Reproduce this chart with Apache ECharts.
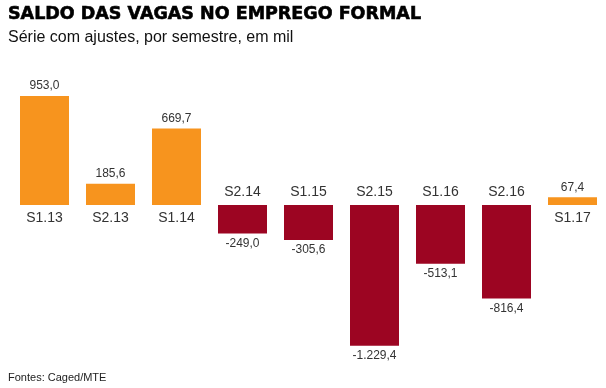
<!DOCTYPE html>
<html>
<head>
<meta charset="utf-8">
<script src="https://cdn.jsdelivr.net/npm/echarts@6/dist/echarts.min.js"></script>
<style>html,body{margin:0;padding:0;background:#fff;}#c{width:606px;height:388px;}</style>
</head>
<body>
<div id="c"></div>
<script>
var categories = ['S1.13','S2.13','S1.14','S2.14','S1.15','S2.15','S1.16','S2.16','S1.17'];
var values = [953.0, 185.6, 669.7, -249.0, -305.6, -1229.4, -513.1, -816.4, 67.4];
var titleText = 'SALDO DAS VAGAS NO EMPREGO FORMAL';
var subtitleText = 'Série com ajustes, por semestre, em mil';
var sourceText = 'Fontes: Caged/MTE';

function fmt(v) {
  var neg = v < 0;
  var a = Math.abs(v).toFixed(1).split('.');
  var intPart = a[0].replace(/\B(?=(\d{3})+(?!\d))/g, '.');
  return (neg ? '-' : '') + intPart + ',' + a[1];
}

var ORANGE = '#F7941E';
var RED = '#9C0522';

var barData = values.map(function (v) {
  return {
    value: v,
    itemStyle: { color: v >= 0 ? ORANGE : RED },
    label: { position: v >= 0 ? 'top' : 'bottom' }
  };
});
var catData = values.map(function (v, i) {
  return {
    value: [categories[i], 0],
    label: { position: v >= 0 ? 'bottom' : 'top', formatter: categories[i] }
  };
});

var chart = echarts.init(document.getElementById('c'), null, { renderer: 'canvas' });
chart.setOption({
  animation: false,
  title: [
    { text: titleText, left: 8, top: 5, padding: 0,
      textStyle: { fontFamily: 'DejaVu Sans', fontWeight: 'bold', fontSize: 17.5, color: '#000',
        textBorderColor: '#000', textBorderWidth: 0.6 } },
    { text: subtitleText, left: 8, top: 30, padding: 0,
      textStyle: { fontFamily: 'Liberation Sans', fontWeight: 'normal', fontSize: 16, color: '#111' } },
    { text: sourceText, left: 8, top: 372, padding: 0,
      textStyle: { fontFamily: 'Liberation Sans', fontWeight: 'normal', fontSize: 11, color: '#222' } }
  ],
  grid: { left: 11.5, width: 594, top: 90.6, height: 274.56, containLabel: false },
  xAxis: {
    type: 'category', data: categories,
    axisLine: { show: false }, axisTick: { show: false }, axisLabel: { show: false },
    splitLine: { show: false }
  },
  yAxis: {
    type: 'value', min: -1400, max: 1000,
    axisLine: { show: false }, axisTick: { show: false }, axisLabel: { show: false },
    splitLine: { show: false }
  },
  series: [
    {
      type: 'bar', data: barData, barWidth: 49,
      label: {
        show: true, distance: 4,
        fontFamily: 'Liberation Sans', fontSize: 12, color: '#333',
        formatter: function (p) { return fmt(p.value); }
      }
    },
    {
      type: 'scatter', data: catData, symbolSize: 0, silent: true,
      itemStyle: { opacity: 1 },
      label: {
        show: true, distance: 6,
        fontFamily: 'Liberation Sans', fontSize: 14, color: '#333'
      }
    }
  ]
});
</script>
</body>
</html>
